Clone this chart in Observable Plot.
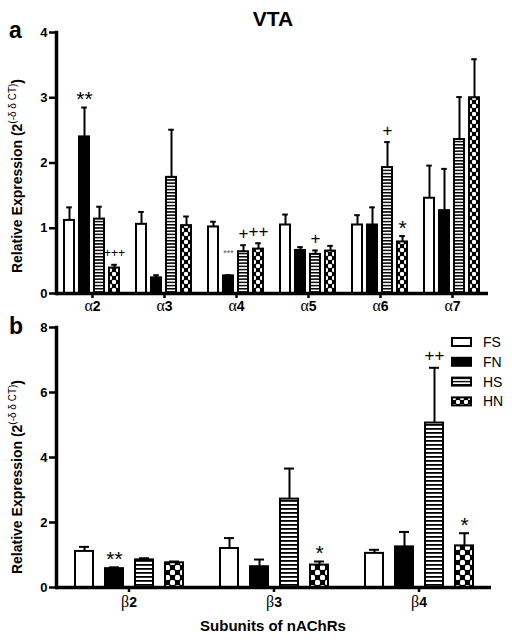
<!DOCTYPE html>
<html>
<head>
<meta charset="utf-8">
<script src="https://cdn.jsdelivr.net/npm/d3@7"></script>
<script src="https://cdn.jsdelivr.net/npm/@observablehq/plot@0.6"></script>
<style>
  html, body { margin: 0; padding: 0; background: white; }
  #wrap { position: relative; width: 512px; height: 640px; overflow: hidden; }
  #wrap > svg { position: absolute; left: 0; }
</style>
</head>
<body>
<div id="wrap"></div>
<script>
// ---------- data ----------
const groups = ["FS", "FN", "HS", "HN"];

const subunitsA = ["α2", "α3", "α4", "α5", "α6", "α7"];
const aFS    = [1.12, 1.06, 1.02, 1.05, 1.05, 1.46];
const aFSerr = [0.20, 0.19, 0.08, 0.16, 0.15, 0.50];
const aFN    = [2.40, 0.24, 0.27, 0.66, 1.05, 1.27];
const aFNerr = [0.45, 0.04, 0.01, 0.05, 0.27, 0.64];
const aHS    = [1.14, 1.78, 0.64, 0.60, 1.93, 2.36];
const aHSerr = [0.19, 0.73, 0.10, 0.06, 0.39, 0.65];
const aHN    = [0.39, 1.04, 0.68, 0.65, 0.79, 3.00];
const aHNerr = [0.05, 0.14, 0.09, 0.08, 0.09, 0.59];
const aFSsig = ["", "", "", "", "", ""];
const aFNsig = ["**", "", "***", "", "", ""];
const aHSsig = ["", "", "+", "+", "+", ""];
const aHNsig = ["+++", "", "++", "", "*", ""];
const yTicksA = [0, 1, 2, 3, 4];

const subunitsB = ["β2", "β3", "β4"];
const bFS    = [1.11, 1.20, 1.05];
const bFSerr = [0.14, 0.32, 0.11];
const bFN    = [0.58, 0.64, 1.25];
const bFNerr = [0.04, 0.22, 0.46];
const bHS    = [0.85, 2.72, 5.06];
const bHSerr = [0.05, 0.94, 1.70];
const bHN    = [0.76, 0.69, 1.28];
const bHNerr = [0.04, 0.11, 0.39];
const bFSsig = ["", "", ""];
const bFNsig = ["**", "", ""];
const bHSsig = ["", "", "++"];
const bHNsig = ["", "*", "*"];
const yTicksB = [0, 2, 4, 6, 8];

const title = "VTA";
const xTitle = "Subunits of nAChRs";

// ---------- helpers ----------
function buildRows(subs, series) {
  const rows = [];
  subs.forEach((s, i) => {
    series.forEach(([g, vals, errs, sigs]) => {
      rows.push({sub: s, grp: g, val: vals[i], err: errs[i], sig: sigs[i]});
    });
  });
  return rows;
}
const dataA = buildRows(subunitsA, [
  ["FS", aFS, aFSerr, aFSsig], ["FN", aFN, aFNerr, aFNsig],
  ["HS", aHS, aHSerr, aHSsig], ["HN", aHN, aHNerr, aHNsig]]);
const dataB = buildRows(subunitsB, [
  ["FS", bFS, bFSerr, bFSsig], ["FN", bFN, bFNerr, bFNsig],
  ["HS", bHS, bHSerr, bHSsig], ["HN", bHN, bHNerr, bHNsig]]);

const FONT = "'Liberation Sans', Arial, Helvetica, sans-serif";

function sigSize(s) {
  if (s === "***") return 9;
  if (s === "+++") return 12;
  return s.includes("*") ? 21 : 17;
}
function sigDy(s) {
  if (s === "***") return -22;
  if (s.includes("*")) return -8;
  return -12;
}

function panel(data, o) {
  const sigRows = data.filter(d => d.sig);
  const svg = Plot.plot({
    width: 512, height: o.height,
    marginTop: o.marginTop, marginBottom: o.marginBottom,
    marginLeft: 56, marginRight: o.marginRight,
    style: {fontFamily: FONT, fontSize: "13px", fontWeight: "bold", color: "black", background: "transparent", overflow: "visible"},
    fx: {domain: o.subs, padding: 0, label: null},
    x: {domain: groups, paddingInner: o.pIn, paddingOuter: o.pOut, axis: null},
    y: {domain: [0, o.yMax]},
    color: {domain: groups, range: o.fills},
    marks: [
      Plot.ruleX(data, {fx: "sub", x: "grp", y1: "val", y2: d => d.val + d.err, stroke: "black", strokeWidth: 2}),
      Plot.tickY(data, {fx: "sub", x: "grp", y: d => d.val + d.err, stroke: "black", strokeWidth: 2, insetLeft: o.capInset, insetRight: o.capInset}),
      Plot.barY(data, {fx: "sub", x: "grp", y: "val", fill: "grp", stroke: "black", strokeWidth: 2}),
      ...sigRows.map(d => Plot.text([d], {fx: "sub", x: "grp", y: r => r.val + r.err, text: "sig",
        dy: sigDy(d.sig), fontSize: sigSize(d.sig), fontWeight: "normal", fill: d.sig === "***" ? "#555" : "black"})),
      Plot.ruleY([0], {stroke: "black", strokeWidth: 3.5}),
      Plot.frame({anchor: "left", facetAnchor: "left", stroke: "black", strokeWidth: 3.5}),
      Plot.axisY({ticks: o.yTicks, tickFormat: d3.format("d"), tickSize: 7, tickPadding: 2, strokeWidth: 2.5, label: null, fontSize: 13}),
      Plot.axisFx({anchor: "bottom", tickSize: 5, tickPadding: o.fxPad, strokeWidth: 2.5, label: null, fontSize: 14})
    ]
  });
  // Greek letter in a serif face, digit in bold sans
  d3.select(svg).selectAll('g[aria-label="fx-axis tick label"] text').each(function() {
    const s = this.textContent;
    const t = d3.select(this).text(null);
    t.append("tspan").attr("font-family", "'Liberation Serif', 'DejaVu Serif', serif").attr("font-weight", "normal").attr("font-size", 16).text(s.slice(0, 1));
    t.append("tspan").text(s.slice(1));
  });
  svg.style.top = o.top + "px";
  return svg;
}

const wrap = document.getElementById("wrap");

const svgA = panel(dataA, {
  subs: subunitsA, height: 320, top: 0, marginTop: 32, marginBottom: 27, marginRight: 24,
  yMax: 4, yTicks: yTicksA, pIn: 0.33, pOut: 0.5, capInset: 2.2, fxPad: 3,
  fills: ["white", "black", "url(#hsA)", "url(#hnA)"]
});
const svgB = panel(dataB, {
  subs: subunitsB, height: 320, top: 320, marginTop: 7, marginBottom: 53, marginRight: 21,
  yMax: 8, yTicks: yTicksB, pIn: 0.4, pOut: 0.54, capInset: 4, fxPad: 5,
  fills: ["white", "black", "url(#hsB)", "url(#hnB)"]
});
wrap.appendChild(svgA);
wrap.appendChild(svgB);

// ---------- overlay: patterns, titles, legend ----------
const ov = d3.select(wrap).append("svg")
  .attr("width", 512).attr("height", 640)
  .style("top", "0px").style("pointer-events", "none")
  .style("font-family", FONT);

const defs = ov.append("defs");
function stripes(id, h, black) {
  const p = defs.append("pattern").attr("id", id).attr("patternUnits", "userSpaceOnUse").attr("width", 8).attr("height", h);
  p.append("rect").attr("width", 8).attr("height", h).attr("fill", "white");
  p.append("rect").attr("width", 8).attr("height", black).attr("fill", "black");
}
function checker(id, c) {
  const p = defs.append("pattern").attr("id", id).attr("patternUnits", "userSpaceOnUse").attr("width", 2 * c).attr("height", 2 * c);
  p.append("rect").attr("width", 2 * c).attr("height", 2 * c).attr("fill", "black");
  p.append("rect").attr("width", c).attr("height", c).attr("rx", c * 0.3).attr("fill", "white");
  p.append("rect").attr("x", c).attr("y", c).attr("width", c).attr("height", c).attr("rx", c * 0.3).attr("fill", "white");
}
stripes("hsA", 3.2, 1.5);
stripes("hsB", 4, 1.8);
checker("hnA", 4);
checker("hnB", 5);

ov.append("text").attr("x", 273).attr("y", 26).attr("text-anchor", "middle")
  .attr("font-size", 21).attr("font-weight", "bold").text(title);
ov.append("text").attr("x", 9).attr("y", 38).attr("font-size", 23).attr("font-weight", "bold").text("a");
ov.append("text").attr("x", 9).attr("y", 334).attr("font-size", 23).attr("font-weight", "bold").text("b");

function yLabel(cy) {
  const t = ov.append("text")
    .attr("transform", `translate(22,${cy}) rotate(-90)`)
    .attr("text-anchor", "middle").attr("font-size", 14).attr("font-weight", "bold");
  t.append("tspan").text("Relative Expression (2");
  t.append("tspan").attr("dy", -6).attr("font-size", 10).attr("font-weight", "normal").text("(-δ δ CT)");
  t.append("tspan").attr("dy", 6).text(")");
}
yLabel(176);
yLabel(477);

ov.append("text").attr("x", 273).attr("y", 631).attr("text-anchor", "middle")
  .attr("font-size", 15).attr("font-weight", "bold").text(xTitle);

const legendFills = ["white", "black", "url(#hsA)", "url(#hnA)"];
groups.forEach((g, i) => {
  const cy = 342 + i * 19.8;
  ov.append("rect").attr("x", 452).attr("y", cy - 4).attr("width", 19).attr("height", 8)
    .attr("fill", legendFills[i]).attr("stroke", "black").attr("stroke-width", 2);
  ov.append("text").attr("x", 483).attr("y", cy + 5).attr("font-size", 14).text(g);
});
</script>
</body>
</html>
